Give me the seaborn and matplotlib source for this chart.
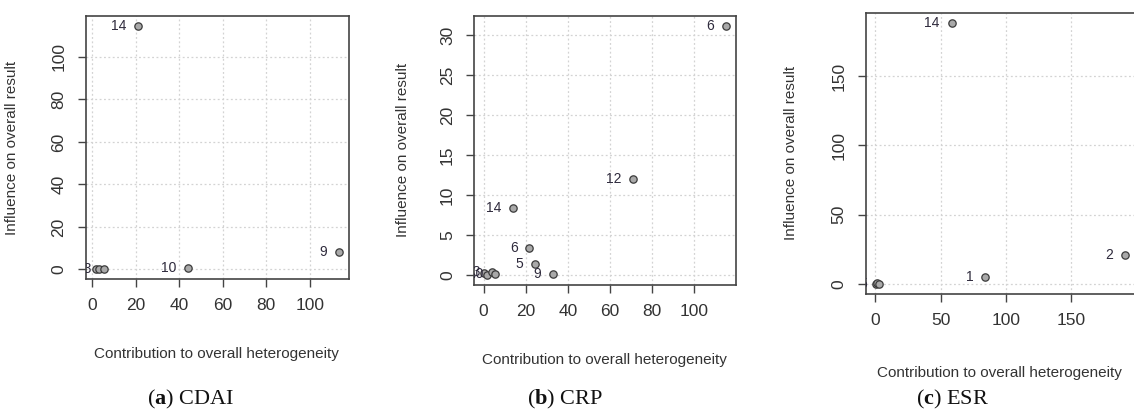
import matplotlib
matplotlib.use('Agg')
import matplotlib.pyplot as plt
import matplotlib.transforms as mtransforms
import seaborn as sns
import pandas as pd

# Baujat plots
cdai_x = [20.9, 113.6, 43.9, 1.5, 3.1, 5.1]
cdai_y = [114.6, 8.3, 0.8, 0.3, 0.1, 0.4]
cdai_ids = ["14", "9", "10", "11", "12", "13"]

crp_x = [115.1, 70.9, 14.1, 21.7, 24.5, 32.8, 0.2, 1.7, 3.9, 5.5]
crp_y = [31.2, 11.96, 8.45, 3.39, 1.38, 0.13, 0.2, 0.0, 0.42, 0.13]
crp_ids = ["6", "12", "14", "6", "5", "9", "2", "4", "13", "10"]

esr_x = [58.5, 84.0, 191.0, 0.3, 1.5, 2.8]
esr_y = [188.6, 4.6, 20.5, 0.1, 0.2, 0.1]
esr_ids = ["14", "1", "2", "3", "4", "5"]

panels = [
    ("a", "CDAI", cdai_x, cdai_y, cdai_ids, [0, 20, 40, 60, 80, 100], [0, 20, 40, 60, 80, 100]),
    ("b", "CRP", crp_x, crp_y, crp_ids, [0, 20, 40, 60, 80, 100], [0, 5, 10, 15, 20, 25, 30]),
    ("c", "ESR", esr_x, esr_y, esr_ids, [0, 50, 100, 150], [0, 50, 100, 150]),
]

sns.set_style("white")
plt.rcParams['font.family'] = ['Liberation Sans', 'DejaVu Sans']
plt.rcParams['mathtext.fontset'] = 'custom'
plt.rcParams['mathtext.rm'] = 'Liberation Serif'
plt.rcParams['mathtext.bf'] = 'Liberation Serif:bold'

fig = plt.figure(figsize=(11.34, 4.2), dpi=100)

# axes boxes in figure fractions (left, bottom, width, height)
boxes = [
    (0.0758, 0.3357, 0.2319, 0.626),
    (0.4183, 0.3214, 0.2305, 0.641),
    (0.7634, 0.300, 0.2372, 0.670),
]
xlabel_pos = [(0.497, -0.259), (0.498, -0.251), (0.496, -0.256)]
ylabel_pos = [(-0.255, 0.5), (-0.246, 0.5), (-0.252, 0.5)]
caption_x = [0.168, 0.498, 0.840]

ink = "#333333"
for i, (tag, name, xs, ys, ids, xt, yt) in enumerate(panels):
    ax = fig.add_axes(boxes[i])
    df = pd.DataFrame({"x": xs, "y": ys, "id": ids})

    # R style expanded limits (4% each side)
    xr = max(xs) - min(xs)
    yr = max(ys) - min(ys)
    ax.set_xlim(min(xs) - 0.04 * xr, max(xs) + 0.04 * xr)
    ax.set_ylim(min(ys) - 0.04 * yr, max(ys) + 0.04 * yr)

    ax.set_xticks(xt)
    ax.set_yticks(yt)
    ax.grid(True, color="#d3d3d3", linestyle=(0, (1.5, 2)), linewidth=0.9)
    ax.set_axisbelow(True)

    sns.scatterplot(data=df, x="x", y="y", ax=ax, color="#a9a9a9",
                    edgecolor="#3a3a3a", linewidth=0.9, s=28, zorder=3)

    # labels left of the points, clipped to the plot region like R's text()
    shift = mtransforms.ScaledTranslation(-8.5 / 72, 0, fig.dpi_scale_trans)
    for px, py, lab in zip(xs, ys, ids):
        t = ax.text(px, py, lab, transform=ax.transData + shift,
                    ha="right", va="center", fontsize=10, color="#2e2a3c")
        t.set_clip_box(ax.bbox)
        t.set_clip_on(True)

    for sp in ax.spines.values():
        sp.set_color("#444444")
        sp.set_linewidth(1.2)

    ax.tick_params(axis="both", direction="out", length=6, width=1,
                   color="#444444", labelsize=12.5, labelcolor=ink, pad=8,
                   bottom=True, left=True)
    plt.setp(ax.get_yticklabels(), rotation=90, va="center")

    ax.set_xlabel("Contribution to overall heterogeneity", fontsize=11, color=ink)
    ax.set_ylabel("Influence on overall result", fontsize=11, color=ink)
    ax.xaxis.set_label_coords(*xlabel_pos[i])
    ax.yaxis.set_label_coords(*ylabel_pos[i])

    fig.text(caption_x[i], 0.048, "(" + r"$\mathbf{" + tag + "}$" + ") " + name,
             ha="center", va="center", fontsize=16, family="Liberation Serif",
             color="#111111")

fig.savefig("out.png", dpi=100)
